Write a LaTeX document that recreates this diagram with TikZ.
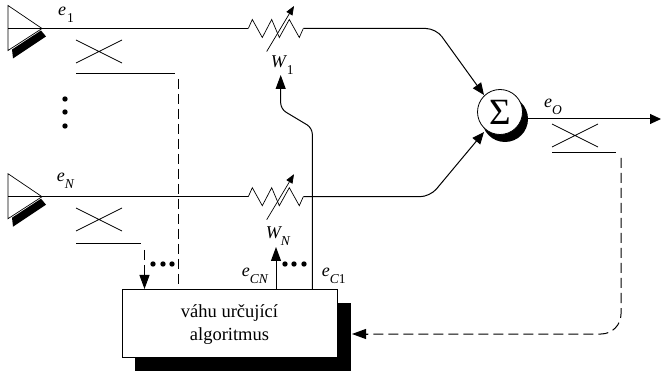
\documentclass[tikz,border=0pt]{standalone}
\usepackage{fontspec}
\setmainfont{Liberation Serif}
\usetikzlibrary{arrows.meta}
\tikzset{
  x=1pt,y=-1pt,
  wire/.style={line width=1pt,rounded corners=5pt},
  thin wire/.style={line width=0.7pt},
  dashwire/.style={line width=1pt,dash pattern=on 10pt off 5pt},
  tip/.style={-{Triangle[length=14pt,width=10pt]}},
  spot/.style={circle,fill=black,inner sep=0pt,minimum size=5.4pt},
}
\newcommand{\lbl}[4]{\node[inner sep=0pt,anchor=base west] (#1) at (#2) {\fontsize{18}{20}\selectfont\itshape #3\raisebox{-7pt}{\fontsize{13.5}{15}\selectfont #4}};}
\newcommand{\antenna}[2]{%
  \fill (12,#2+21) -- (13,#2+30) -- (46,#2+8) -- (41,#2+2) -- cycle;
  \draw[thin wire,fill=white] (8,#2-23) -- (42,#2) -- (8,#2+22) -- cycle;
  \coordinate (#1) at (8,#2);
}
\newcommand{\cross}[2]{\draw[thin wire] (#1,#2) -- +(46,23) (#1,#2+23) -- +(46,-23);}
\newcommand{\resistor}[2]{%
  \coordinate (#1a) at (248.3,#2);
  \coordinate (#1b) at (303.3,#2);
  \draw[thin wire] (#1a) -- (252.3,#2-9) -- (262.3,#2+9) -- (271.7,#2-9) -- (279.3,#2+9) -- (289.3,#2-9) -- (299.3,#2+9) -- (#1b);
  \draw[thin wire,-{Triangle[length=9pt,width=7pt]}] (266.7,#2+23) -- (294,#2-22.5);
}
\begin{document}
\begin{tikzpicture}
\useasboundingbox (0,0) rectangle (661,371);
% algorithm box
\fill (135,303) rectangle (351,371);
\node[draw,line width=0.7pt,fill=white,minimum width=215pt,minimum height=68pt,inner sep=0pt] (box) at (229.5,323) {};
\node[inner sep=0pt,align=center,font=\fontsize{18.5}{23}\selectfont,yshift=-2pt] (boxtext) at (box.center) {váhu určující\\algoritmus};
% sum
\fill (505,119) circle (23pt);
\node[draw,circle,line width=0.8pt,fill=white,minimum size=45pt,inner sep=0pt,font=\fontsize{37}{39}\selectfont] (sum) at (500,112) {Σ};
% antennas
\antenna{a1}{28.5}
\antenna{a2}{196.7}
\resistor{r}{28.5}
\resistor{s}{196.7}
\draw[wire] (a1) -- (ra);
\draw[wire] (a2) -- (sa);
\coordinate (t1) at (484,95);
\coordinate (t2) at (484,132);
\draw[wire,rounded corners=10pt,-{Triangle[length=12pt,width=10pt]}] (rb) -- (436,28.5) -- (t1);
\draw[wire,rounded corners=10pt,-{Triangle[length=12pt,width=10pt]}] (sb) -- (430,196.7) -- (t2);
% output
\coordinate (o1) at (526,119);
\coordinate (o2) at (661,119);
\draw[wire,-{Triangle[length=11pt,width=10pt]}] (o1) -- (o2);
% crosses
\cross{76}{40}
\cross{76}{208}
\cross{552}{124}
% LMS lines
\coordinate (p1) at (76,74);
\coordinate (p2) at (175,74);
\draw[wire] (p1) -- (p2);
\coordinate (d1) at (178.5,79);
\coordinate (d2) at (178.5,285);
\draw[dashwire] (d1) -- (d2);
\coordinate (q1) at (76,244);
\coordinate (q2) at (141,244);
\draw[wire] (q1) -- (q2);
\coordinate (e1) at (144.5,250);
\coordinate (e2) at (144.5,289);
\draw[dashwire] (e1) -- (144.5,276);
\draw[wire,tip] (144.5,274) -- (e2);
\coordinate (f1) at (552,153);
\coordinate (f2) at (616,153);
\draw[wire] (f1) -- (f2);
\coordinate (g1) at (621,158);
\coordinate (g2) at (352,334);
\draw[dashwire,rounded corners=20pt] (g1) -- (621,334) -- (364,334);
\draw[wire,tip] (368,334) -- (g2);
% control lines
\coordinate (w1) at (280.7,75);
\draw[wire,tip,rounded corners=6pt] (312.3,289) -- (312.3,128) -- (280.7,109) -- (w1);
\coordinate (wn) at (276,247);
\draw[wire,tip] (276,289) -- (wn);
% dots
\foreach \n/\x/\y in {a/65/99,b/65/112,c/65/126,d/153/264,e/163/264,f/172/264,g/285/264,h/294/264,i/304/264}
  \node[spot] (\n) at (\x,\y) {};
% labels
\lbl{l1}{58,16}{e}{\kern1pt\upshape 1}
\lbl{l2}{56.7,181.7}{e}{N}
\lbl{l3}{270.7,68}{W}{\kern1pt\upshape 1}
\lbl{l4}{265.7,239}{W}{N}
\lbl{l5}{241.7,276.7}{e}{CN}
\lbl{l6}{321.7,276.7}{e}{C\upshape 1}
\lbl{l7}{544,108}{e}{O}
\end{tikzpicture}
\end{document}
